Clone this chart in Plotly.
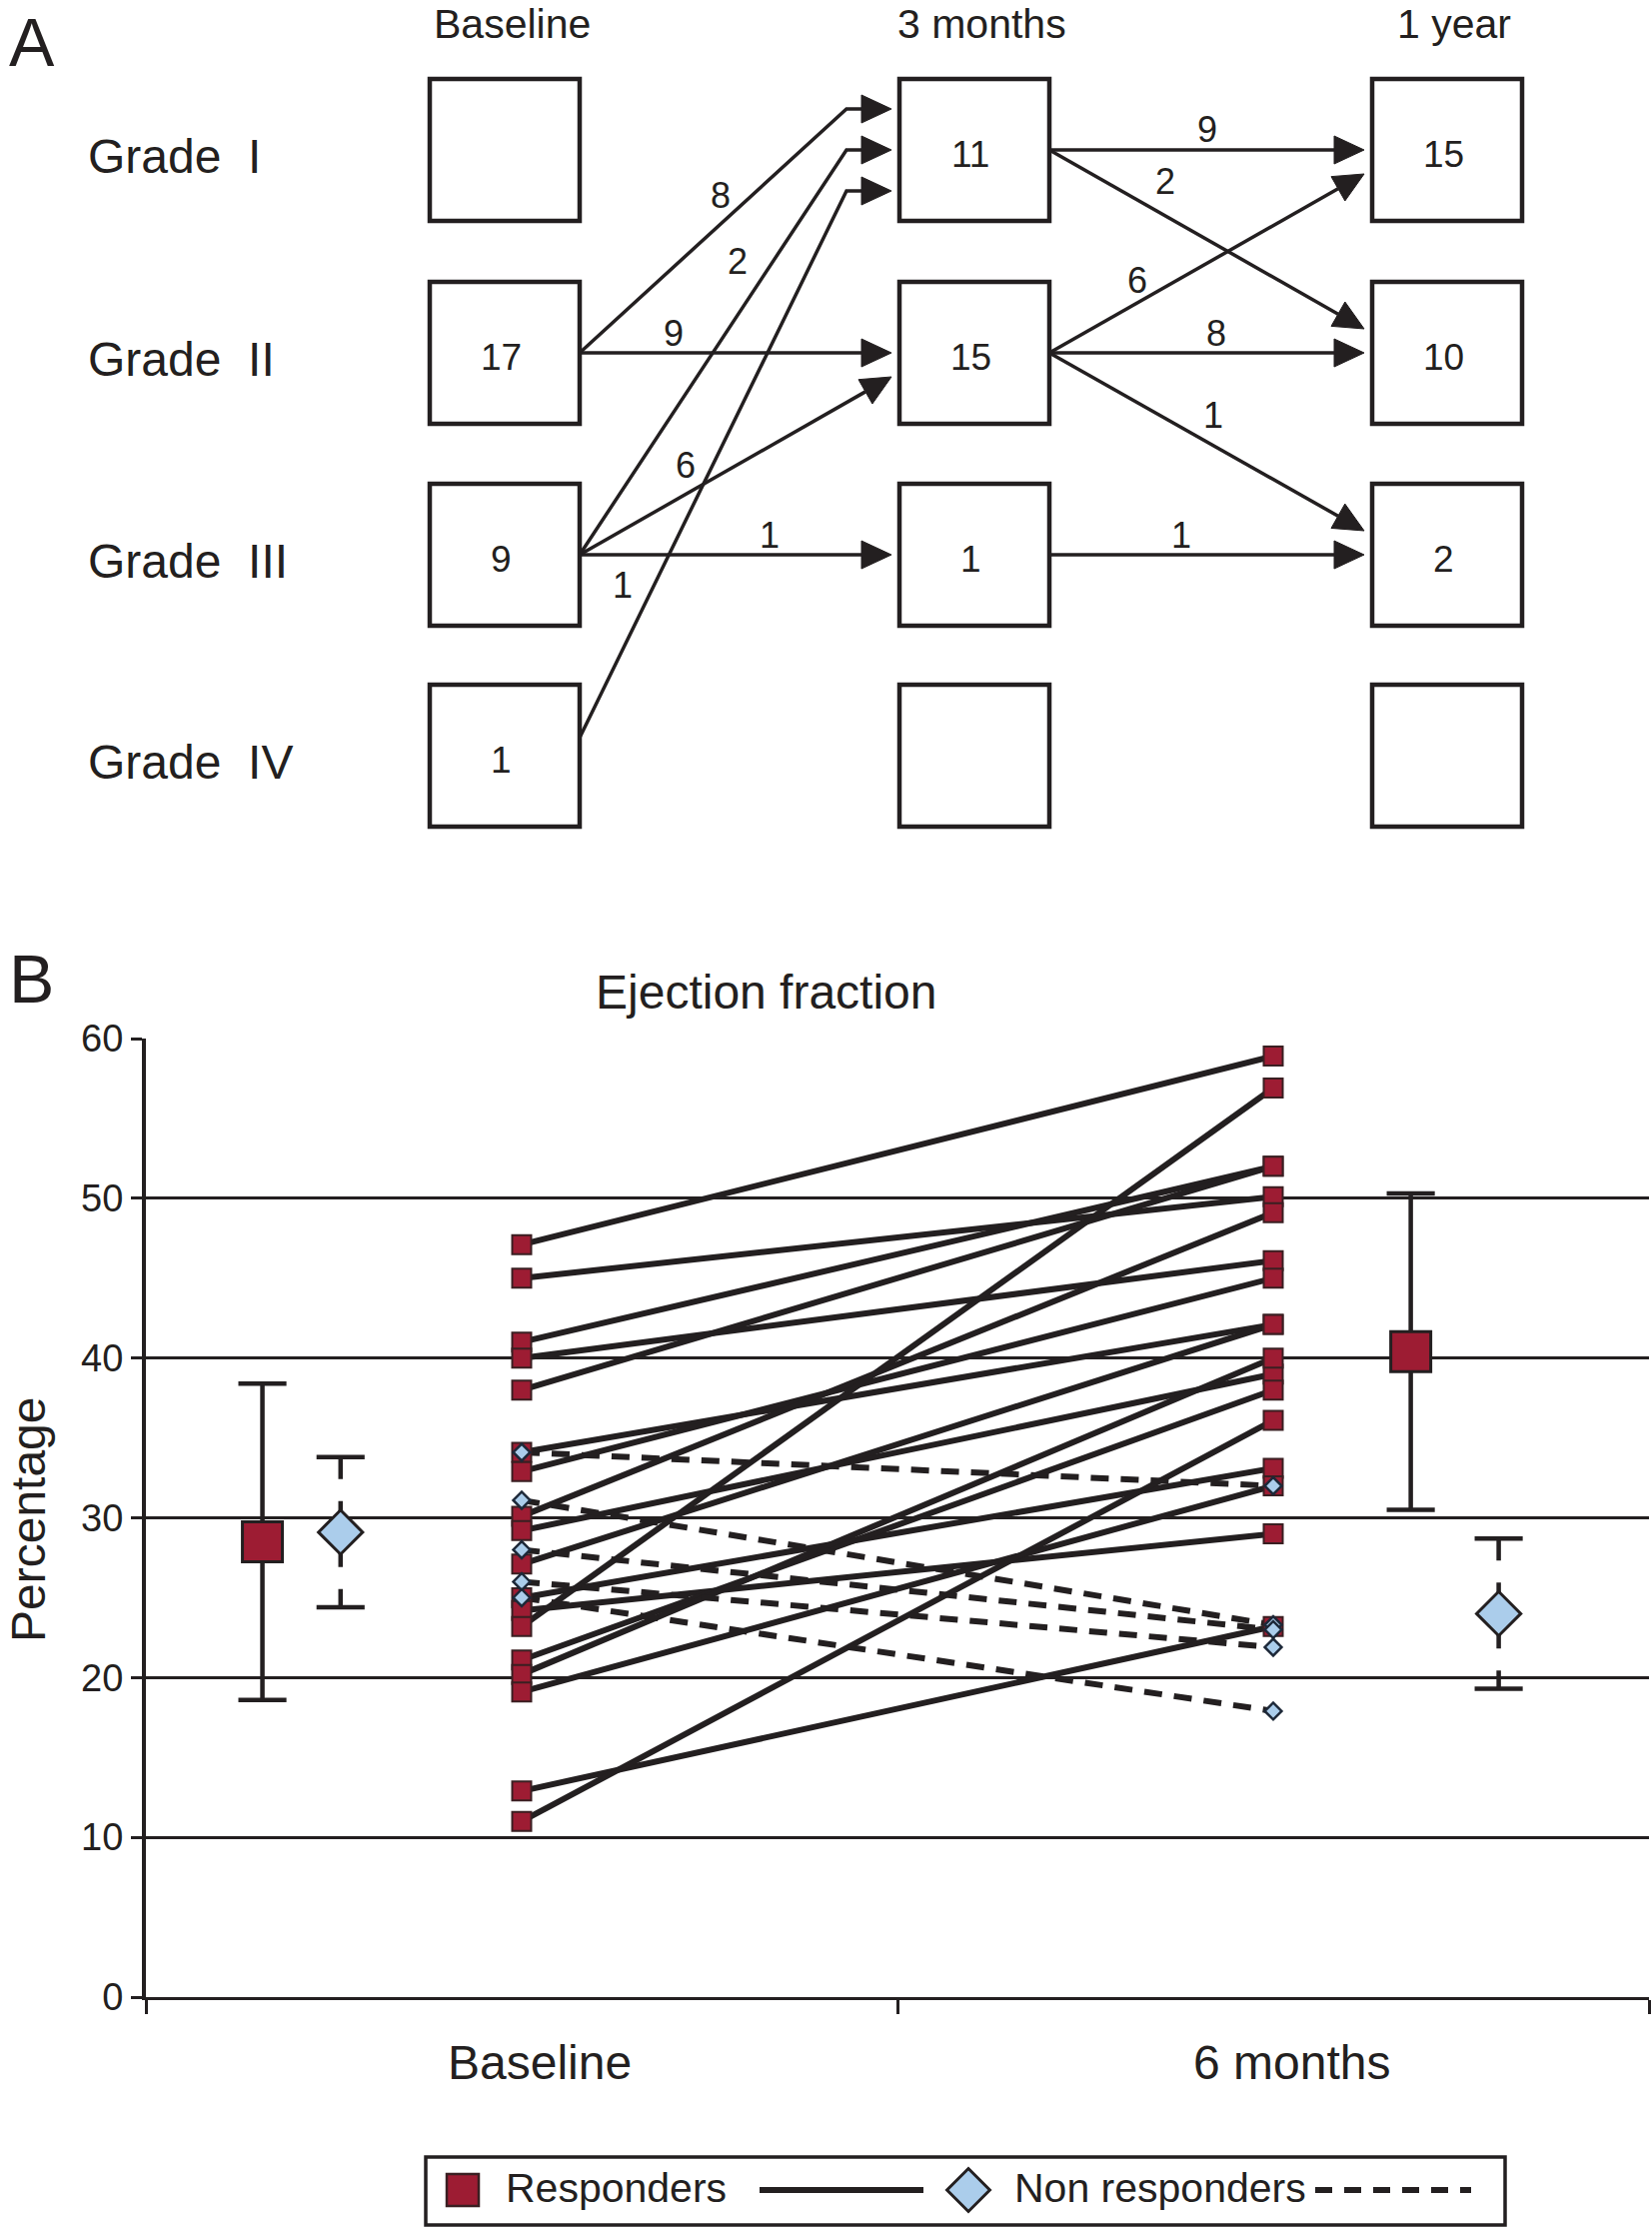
import plotly.graph_objects as go

W, H = 1653, 2228
FONT = "Liberation Sans, Arial, Helvetica, sans-serif"
INK = "#231f20"
RED = "#9d1c33"
BLUE = "#abcdeb"
NAVY = "#1d2838"

# ---------------- Panel A data ----------------
stages = ["Baseline", "3 months", "1 year"]
grades = ["Grade\u00a0 I", "Grade\u00a0 II", "Grade\u00a0 III", "Grade\u00a0 IV"]
baseline_counts = [None, 17, 9, 1]
m3_counts = [11, 15, 1, None]
y1_counts = [15, 10, 2, None]
stage_counts = [baseline_counts, m3_counts, y1_counts]
# transitions between consecutive stages
trans_from_stage = [0, 0, 0, 0, 0, 0, 1, 1, 1, 1, 1, 1]
trans_from_grade = [1, 2, 3, 1, 2, 2, 0, 0, 1, 1, 1, 2]
trans_to_grade = [0, 0, 0, 1, 1, 2, 0, 1, 0, 1, 2, 2]
trans_n = [8, 2, 1, 9, 6, 1, 9, 2, 6, 8, 1, 1]

# ---------------- Panel B data ----------------
time_labels = ["Baseline", "6 months"]
resp_base = [47.1, 45.0, 41.0, 40.0, 38.0, 34.1, 32.9, 30.1, 29.2, 27.1,
             25.0, 24.2, 23.2, 21.1, 20.2, 19.1, 12.9, 11.0]
resp_6m = [58.9, 50.1, 52.0, 46.1, 52.0, 42.1, 45.0, 49.1, 39.0, 42.1,
           33.1, 29.0, 56.9, 38.0, 40.0, 32.0, 23.2, 36.1]
non_base = [34.1, 31.1, 28.0, 26.0, 25.0]
non_6m = [32.0, 23.3, 23.0, 21.9, 17.9]
resp_mean = [28.5, 40.4]
resp_sd = [9.9, 9.9]
non_mean = [29.1, 24.0]
non_sd = [4.7, 4.7]

# ---------------- layout constants (pixels) ----------------
col_cx = [505, 975, 1448]
row_cy = [150, 353, 555, 756]
BOX_W, BOX_H = 150, 142
GAP = 8
HEAD_L, HEAD_HW = 30, 14
SAME_SP, SPREAD_SP = 24, 41
label_t = [0.58, 0.685, 0.257, 0.30, 0.38, 0.61, 0.50, 0.32, 0.31, 0.53, 0.48, 0.42]
label_n = [21, 30, 28, 20, 25, 20, 21, 30, 20, 20, 26, 20]
exit_dy = [0, 0, 0, -18]   # exit offset from box centre, by source grade

PX_L, PX_R = 146, 1650
PY_TOP, PY_BOT = 1039, 1998
time_x = [0.5, 1.5]
mean_x_resp = [0.155, 1.683]
mean_x_non = [0.259, 1.80]
CAP = 0.032

fig = go.Figure()

# ================= Panel B =================
lx, ly = [], []
for b, m in zip(resp_base, resp_6m):
    lx += [time_x[0], time_x[1], None]
    ly += [b, m, None]
fig.add_trace(go.Scatter(x=lx, y=ly, mode="lines", line=dict(color=INK, width=6),
                         xaxis="x", yaxis="y", hoverinfo="skip"))
nx, ny = [], []
for b, m in zip(non_base, non_6m):
    nx += [time_x[0], time_x[1], None]
    ny += [b, m, None]
fig.add_trace(go.Scatter(x=nx, y=ny, mode="lines",
                         line=dict(color=INK, width=6, dash="18px,12px"),
                         xaxis="x", yaxis="y", hoverinfo="skip"))
fig.add_trace(go.Scatter(x=[time_x[0]] * len(resp_base) + [time_x[1]] * len(resp_6m),
                         y=resp_base + resp_6m, mode="markers",
                         marker=dict(symbol="square", size=19, color=RED,
                                     line=dict(color="#3a1f22", width=2)),
                         xaxis="x", yaxis="y"))
fig.add_trace(go.Scatter(x=[time_x[0]] * len(non_base) + [time_x[1]] * len(non_6m),
                         y=non_base + non_6m, mode="markers",
                         marker=dict(symbol="diamond", size=13, color=BLUE,
                                     line=dict(color=NAVY, width=2.5)),
                         xaxis="x", yaxis="y"))

# error bars of means
ex, ey, cx, cy = [], [], [], []
for xm, m, s in zip(mean_x_resp, resp_mean, resp_sd):
    ex += [xm, xm, None]; ey += [m - s, m + s, None]
    cx += [xm - CAP, xm + CAP, None, xm - CAP, xm + CAP, None]
    cy += [m + s, m + s, None, m - s, m - s, None]
fig.add_trace(go.Scatter(x=ex, y=ey, mode="lines", line=dict(color=INK, width=4.5),
                         xaxis="x", yaxis="y"))
dx, dy = [], []
for xm, m, s in zip(mean_x_non, non_mean, non_sd):
    dx += [xm, xm, None]; dy += [m + s, m - s, None]
    cx += [xm - CAP, xm + CAP, None, xm - CAP, xm + CAP, None]
    cy += [m + s, m + s, None, m - s, m - s, None]
fig.add_trace(go.Scatter(x=dx, y=dy, mode="lines",
                         line=dict(color=INK, width=4.5, dash="22px,22px"),
                         xaxis="x", yaxis="y"))
fig.add_trace(go.Scatter(x=cx, y=cy, mode="lines", line=dict(color=INK, width=4.5),
                         xaxis="x", yaxis="y"))
fig.add_trace(go.Scatter(x=mean_x_resp, y=resp_mean, mode="markers",
                         marker=dict(symbol="square", size=40, color=RED,
                                     line=dict(color=INK, width=3)),
                         xaxis="x", yaxis="y"))
fig.add_trace(go.Scatter(x=mean_x_non, y=non_mean, mode="markers",
                         marker=dict(symbol="diamond", size=34, color=BLUE,
                                     line=dict(color=INK, width=3)),
                         xaxis="x", yaxis="y"))

# ================= Panel A (pixel overlay axes) =================
entry = {}
groups = {}
for i in range(len(trans_n)):
    groups.setdefault((trans_from_stage[i], trans_to_grade[i]), []).append(i)
for key, idx in groups.items():
    ks = [trans_from_grade[i] - trans_to_grade[i] for i in idx]
    if 0 in ks:
        offs = [k * SAME_SP for k in ks]
    else:
        mk = sum(ks) / len(ks)
        offs = [(k - mk) * SPREAD_SP for k in ks]
    for i, o in zip(idx, offs):
        entry[i] = o

ax_, ay_, hx, hy = [], [], [], []
annotations = []
for i in range(len(trans_n)):
    s, fg, tg = trans_from_stage[i], trans_from_grade[i], trans_to_grade[i]
    sx, sy = col_cx[s] + BOX_W / 2, row_cy[fg] + exit_dy[fg]
    tx, ty = col_cx[s + 1] - BOX_W / 2 - GAP, row_cy[tg] + entry[i]
    elbow = (s == 0 and tg == 0)
    if elbow:
        ex_, ey_ = tx - 45, ty
        ux, uy = 1.0, 0.0
        ax_ += [sx, ex_, tx - HEAD_L, None]
        ay_ += [sy, ey_, ty, None]
        d0, d1 = (sx, sy), (ex_, ey_)
    else:
        L = ((tx - sx) ** 2 + (ty - sy) ** 2) ** 0.5
        ux, uy = (tx - sx) / L, (ty - sy) / L
        ax_ += [sx, tx - HEAD_L * ux, None]
        ay_ += [sy, ty - HEAD_L * uy, None]
        d0, d1 = (sx, sy), (tx, ty)
    bx, by = tx - HEAD_L * ux, ty - HEAD_L * uy
    hx += [tx, bx - HEAD_HW * uy, bx + HEAD_HW * uy, tx, None]
    hy += [ty, by + HEAD_HW * ux, by - HEAD_HW * ux, ty, None]
    # label
    dlx, dly = d1[0] - d0[0], d1[1] - d0[1]
    dl = (dlx ** 2 + dly ** 2) ** 0.5
    vx, vy = dlx / dl, dly / dl
    t = label_t[i]
    px_, py_ = d0[0] + t * dlx, d0[1] + t * dly
    px_ += label_n[i] * vy
    py_ += -label_n[i] * vx
    annotations.append(dict(x=px_, y=py_, xref="x2", yref="y2", text=str(trans_n[i]),
                            showarrow=False, font=dict(size=36, color=INK, family=FONT),
                            xanchor="center", yanchor="middle"))

fig.add_trace(go.Scatter(x=ax_, y=ay_, mode="lines", line=dict(color=INK, width=3.5),
                         xaxis="x2", yaxis="y2"))
fig.add_trace(go.Scatter(x=hx, y=hy, mode="lines", fill="toself", fillcolor=INK,
                         line=dict(color=INK, width=1), xaxis="x2", yaxis="y2"))

shapes = []
for s in range(3):
    for g in range(4):
        shapes.append(dict(type="rect", xref="x2", yref="y2",
                           x0=col_cx[s] - BOX_W / 2, x1=col_cx[s] + BOX_W / 2,
                           y0=row_cy[g] - BOX_H / 2, y1=row_cy[g] + BOX_H / 2,
                           line=dict(color=INK, width=4.5), fillcolor="rgba(0,0,0,0)"))
        c = stage_counts[s][g]
        if c is not None:
            annotations.append(dict(x=col_cx[s] - 4, y=row_cy[g] + 4, xref="x2", yref="y2",
                                    text=str(c), showarrow=False,
                                    font=dict(size=37, color=INK, family=FONT)))
    annotations.append(dict(x=col_cx[s] + 7, y=24, xref="x2", yref="y2", text=stages[s],
                            showarrow=False, font=dict(size=41, color=INK, family=FONT)))
for g in range(4):
    annotations.append(dict(x=86, y=row_cy[g] + 6, xref="x2", yref="y2", text=grades[g],
                            showarrow=False, xanchor="left",
                            font=dict(size=48, color=INK, family=FONT)))

annotations.append(dict(x=32, y=42, xref="x2", yref="y2", text="A", showarrow=False,
                        font=dict(size=68, color=INK, family=FONT)))
annotations.append(dict(x=31, y=979, xref="x2", yref="y2", text="B", showarrow=False,
                        font=dict(size=68, color=INK, family=FONT)))
annotations.append(dict(x=767, y=992, xref="x2", yref="y2", text="Ejection fraction",
                        showarrow=False, font=dict(size=48, color=INK, family=FONT)))
annotations.append(dict(x=28, y=1520, xref="x2", yref="y2", text="Percentage",
                        showarrow=False, textangle=-90,
                        font=dict(size=48, color=INK, family=FONT)))
for tx_, lab in zip(time_x, time_labels):
    annotations.append(dict(x=PX_L + (tx_ / 2) * (PX_R - PX_L) + 18, y=2063, xref="x2", yref="y2",
                            text=lab, showarrow=False,
                            font=dict(size=48, color=INK, family=FONT)))

# ---------------- manual legend ----------------
LG_Y = 2191
shapes.append(dict(type="rect", xref="x2", yref="y2", x0=426, x1=1506, y0=2158, y1=2226,
                   line=dict(color=INK, width=3.5), fillcolor="white", layer="below"))
fig.add_trace(go.Scatter(x=[463], y=[LG_Y], mode="markers",
                         marker=dict(symbol="square", size=32, color=RED,
                                     line=dict(color="#3a1f22", width=2.5)),
                         xaxis="x2", yaxis="y2"))
fig.add_trace(go.Scatter(x=[760, 924], y=[LG_Y, LG_Y], mode="lines",
                         line=dict(color=INK, width=6), xaxis="x2", yaxis="y2"))
fig.add_trace(go.Scatter(x=[969], y=[LG_Y], mode="markers",
                         marker=dict(symbol="diamond", size=33, color=BLUE,
                                     line=dict(color=INK, width=3)),
                         xaxis="x2", yaxis="y2"))
fig.add_trace(go.Scatter(x=[1316, 1472], y=[LG_Y, LG_Y], mode="lines",
                         line=dict(color=INK, width=6, dash="17px,12px"), xaxis="x2", yaxis="y2"))
annotations.append(dict(x=504, y=LG_Y - 2, xref="x2", yref="y2", text="Responders",
                        showarrow=False, xanchor="left",
                        font=dict(size=41, color=INK, family=FONT)))
annotations.append(dict(x=1013, y=LG_Y - 2, xref="x2", yref="y2", text="Non responders",
                        showarrow=False, xanchor="left",
                        font=dict(size=41, color=INK, family=FONT)))

fig.update_layout(
    width=W, height=H, margin=dict(l=0, r=0, t=0, b=0, pad=0, autoexpand=False),
    paper_bgcolor="white", plot_bgcolor="rgba(0,0,0,0)",
    showlegend=False, font=dict(family=FONT, color=INK),
    xaxis=dict(domain=[PX_L / W, PX_R / W], range=[0, 2], tickvals=[0, 1, 2],
               ticktext=["", "", ""], ticks="outside", ticklen=14, tickwidth=3,
               tickcolor=INK, showline=True, linecolor=INK, linewidth=3,
               showgrid=False, zeroline=False, anchor="y", fixedrange=True,
               automargin=False),
    yaxis=dict(domain=[(H - PY_BOT) / H, (H - PY_TOP) / H], range=[0, 60],
               tickvals=list(range(0, 61, 10)), ticks="outside", ticklen=11, tickwidth=3,
               tickcolor=INK, showline=True, linecolor=INK, linewidth=4,
               showgrid=True, gridcolor=INK, gridwidth=3, zeroline=False,
               tickfont=dict(size=38, color=INK, family=FONT), anchor="x", fixedrange=True,
               automargin=False),
    xaxis2=dict(domain=[0, 1], range=[0, W], visible=False, anchor="y2", fixedrange=True,
                automargin=False),
    yaxis2=dict(domain=[0, 1], range=[H, 0], visible=False, anchor="x2", fixedrange=True,
                automargin=False),
    shapes=shapes, annotations=annotations,
)

fig.write_html("out.html", config={"displayModeBar": False},
               post_script="document.body.style.margin='0';")
